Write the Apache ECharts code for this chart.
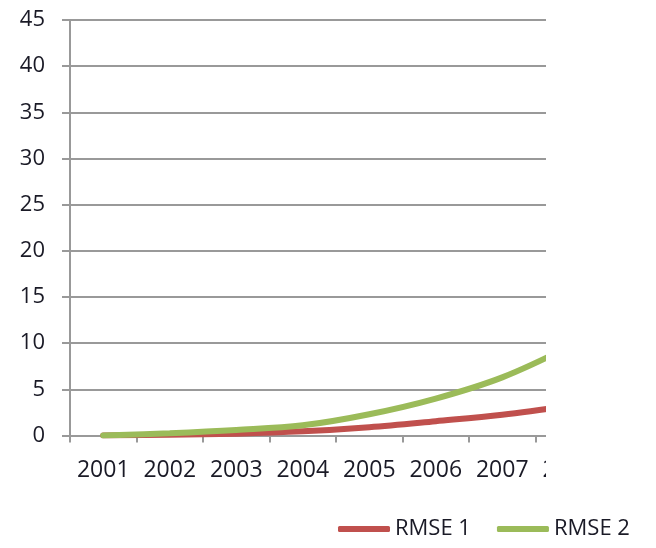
<!DOCTYPE html>
<html>
<head>
<meta charset="utf-8">
<script src="https://cdn.jsdelivr.net/npm/echarts@6/dist/echarts.min.js"></script>
<style>
  html, body { margin: 0; padding: 0; background: #fff; }
  #chart { width: 656px; height: 548px; }
</style>
</head>
<body>
<div id="chart"></div>
<script>
// Years on the horizontal axis
const years = ['2001', '2002', '2003', '2004', '2005', '2006', '2007', '2008'];
// Error series
const rmse1 = [0, 0.08, 0.2, 0.45, 0.9, 1.55, 2.25, 3.2];
const rmse2 = [0, 0.25, 0.6, 1.1, 2.3, 4.0, 6.3, 9.6];
// Value axis ticks
const yMin = 0, yMax = 45, yStep = 5;

const FONT = '"Open Sans", "Noto Sans", sans-serif';
const TEXT = '#1a1a26';
const GRID = '#999999';

const chart = echarts.init(document.getElementById('chart'), null, { renderer: 'canvas' });
chart.setOption({
  backgroundColor: '#fff',
  animation: false,
  grid: { left: 70, right: 54, top: 20, bottom: 112.5, containLabel: false },
  xAxis: {
    type: 'category',
    data: years,
    boundaryGap: true,
    axisLine: { show: true, lineStyle: { color: GRID, width: 2 } },
    axisTick: { show: true, interval: 0, alignWithLabel: false, length: 7, lineStyle: { color: GRID, width: 2 } },
    axisLabel: { interval: 0, hideOverlap: false, color: TEXT, fontFamily: FONT, fontSize: 23, margin: 23 },
    splitLine: { show: false }
  },
  yAxis: {
    type: 'value',
    min: yMin, max: yMax, interval: yStep,
    axisLine: { show: true, lineStyle: { color: GRID, width: 2 } },
    axisTick: { show: true, length: 8, lineStyle: { color: GRID, width: 2 } },
    axisLabel: { color: TEXT, fontFamily: FONT, fontSize: 22, margin: 25 },
    splitLine: { show: true, lineStyle: { color: GRID, width: 2 } }
  },
  legend: {
    left: 333, top: 512,
    itemWidth: 52, itemHeight: 6, itemGap: 26,
    icon: 'roundRect',
    textStyle: { color: TEXT, fontFamily: FONT, fontSize: 22, lineHeight: 24, padding: [0, 0, 0, 0] },
    data: ['RMSE 1', 'RMSE 2']
  },
  series: [
    {
      name: 'RMSE 1', type: 'line', data: rmse1, smooth: 0.35,
      symbol: 'none', color: '#c0504d',
      lineStyle: { width: 6, color: '#c0504d', cap: 'round' }
    },
    {
      name: 'RMSE 2', type: 'line', data: rmse2, smooth: 0.35,
      symbol: 'none', color: '#9bbb59',
      lineStyle: { width: 6, color: '#9bbb59', cap: 'round' }
    }
  ],
  // The plot is trimmed on its right side, leaving blank paper there
  graphic: [{
    type: 'rect', z: 100, silent: true,
    shape: { x: 546, y: 0, width: 120, height: 492 },
    style: { fill: '#fff' }
  }]
});
</script>
</body>
</html>
